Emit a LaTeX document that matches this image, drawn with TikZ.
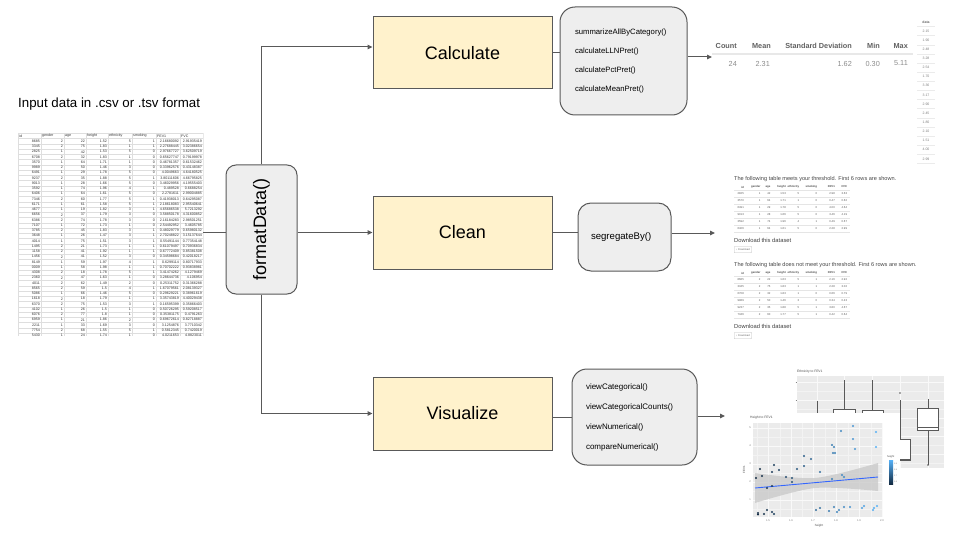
\documentclass[tikz,border=0pt]{standalone}
\usepackage{fontspec}
\setmainfont{Liberation Sans}
\usetikzlibrary{arrows.meta,calc}
\definecolor{edge}{HTML}{595959}
\definecolor{yel}{HTML}{FFF2CC}
\definecolor{fng}{HTML}{EEEEEE}
\definecolor{panel}{HTML}{EBEBEB}
\definecolor{db}{HTML}{132B43}
\definecolor{lb}{HTML}{56B1F7}
\definecolor{regl}{HTML}{3366FF}
\newcommand{\myfs}[1]{\fontsize{#1}{#1}\selectfont}
\newcommand{\myfsl}[2]{\fontsize{#1}{#2}\selectfont}
\tikzset{
  stage/.style={draw=edge, fill=yel, line width=1pt, minimum width=179pt, minimum height=73pt, font=\myfs{18}, inner sep=0pt},
  fnbox/.style={draw=edge, fill=fng, line width=1pt, rounded corners=15pt, align=left},
  conn/.style={draw=edge, line width=1pt},
  arr/.style={conn, -{Triangle[length=5pt,width=4.5pt]}},
  tgrid/.style={draw=black!13, line width=0.3pt},
  tcell/.style={font=\myfs{3.6}, text=black!80, inner sep=0pt},
  scell/.style={font=\myfs{2.8}, text=black!65, inner sep=0pt, anchor=east},
  shead/.style={font=\myfs{2.8}\bfseries, text=black!70, inner sep=0pt, anchor=east},
  sline/.style={draw=black!10, line width=0.3pt},
  tiny/.style={font=\myfs{2.6}, text=black!55, inner sep=0pt},
  wgrid/.style={draw=white!70!panel, line width=0.5pt},
  wgridm/.style={draw=white!40!panel, line width=0.3pt},
  bxp/.style={draw=black!65, fill=white, line width=0.5pt},
}
\begin{document}
\begin{tikzpicture}[x=1pt,y=-1pt]
\useasboundingbox (0,0) rectangle (960,540);
\fill[white] (0,0) rectangle (960,540);

% ---------- input data ----------
\node[font=\myfs{13.3}, anchor=west, inner sep=0pt] (intitle) at (18,104) {Input data in .csv or .tsv format};
\node[minimum width=185pt, minimum height=204pt, inner sep=0pt] (intab) at (110.5,234) {};
\begin{scope}
\clip (17.5,132) rectangle (203.5,336);
\foreach \x in {18,41,64,86,108,132,156,180,203} \draw[tgrid] (\x,133) -- (\x,336);
\foreach \k in {0,...,38} \draw[tgrid] (18,{133.4+\k*5.25}) -- (203,{133.4+\k*5.25});
\foreach \t/\x [count=\k] in {id/19,gender/42,age/65,height/87,ethnicity/109,smoking/133,FEV1/157,FVC/181}
  \node[tcell, anchor=west] (th\k) at (\x,136) {\t};
\foreach \va/\vb/\vc/\vd/\ve/\vf/\vg/\vh [count=\i] in {
8685/2/22/1.52/5/1/2.16680092/2.91935419,
3345/2/75/1.83/1/1/2.27688445/3.02386654,
2825/1/42/1.53/5/0/2.97667727/3.62509719,
6708/2/32/1.83/1/0/0.65627747/0.79199978,
3570/1/64/1.71/1/0/0.46781357/0.61532462,
9989/2/50/1.46/3/0/0.33962576/0.43148387,
6491/1/29/1.78/5/0/4.0049663/4.64180525,
9237/2/35/1.88/5/1/3.80111606/4.66795825,
9013/1/28/1.66/5/0/3.46029956/4.19555403,
3592/1/74/1.96/4/1/0.489528/0.6688254,
6406/1/64/1.61/5/0/2.2781611/2.99004885,
7346/2/60/1.77/5/1/0.41938013/0.64295087,
6171/1/61/1.58/5/1/2.18618083/2.95540641,
4677/1/19/1.82/3/1/4.65686538/5.7213292,
6656/2/37/1.79/3/0/3.58850178/4.31600852,
6386/2/74/1.78/3/0/2.16184283/2.98501251,
7107/1/72/1.73/1/0/2.54492952/3.4605785,
3785/2/45/1.83/3/1/0.48029779/0.65980132,
3648/1/26/1.47/3/1/2.70248822/3.15137644,
4014/1/75/1.51/3/1/0.55491144/0.77354148,
1495/2/21/1.73/1/1/0.61079497/0.70936834,
1158/2/41/1.92/1/1/0.67772409/0.85381508,
1456/2/41/1.52/3/0/0.34598684/0.42018217,
8149/1/59/1.97/4/1/0.6299114/0.80717933,
0009/1/58/1.98/1/1/0.70702222/0.93838981,
4308/2/18/1.78/5/1/3.41474262/4.1279469,
2360/2/47/1.63/1/0/3.28644736/4.106954,
4011/2/62/1.49/2/0/0.25311752/0.31366288,
8565/2/59/1.5/4/1/1.67079561/2.08139327,
5086/1/66/1.46/5/0/0.29629221/0.38961619,
1618/2/18/1.79/1/1/3.35743819/4.40029438,
6370/2/75/1.53/3/1/0.16595399/0.35866403,
4102/1/26/1.5/1/0/0.50726295/0.59208517,
6076/2/77/1.8/1/0/0.35381175/0.4791263,
6959/1/21/1.86/2/0/0.69672614/0.82718887,
2211/1/33/1.69/3/0/3.1254876/3.7710342,
7754/2/68/1.55/5/1/0.5812345/0.7420019,
5430/1/24/1.74/1/0/4.0211653/4.8823011}{
  \pgfmathsetmacro\yy{141.25+(\i-1)*5.25}
  \node[tcell, anchor=east] (ta\i) at (40,\yy) {\va};
  \node[tcell, anchor=east] (tb\i) at (63,\yy) {\vb};
  \node[tcell, anchor=east] (tc\i) at (85,\yy) {\vc};
  \node[tcell, anchor=east] (td\i) at (107,\yy) {\vd};
  \node[tcell, anchor=east] (te\i) at (131,\yy) {\ve};
  \node[tcell, anchor=east] (tf\i) at (155,\yy) {\vf};
  \node[tcell, anchor=east] (tg\i) at (179,\yy) {\vg};
  \node[tcell, anchor=east] (thh\i) at (202,\yy) {\vh};
}
\end{scope}

% ---------- formatData ----------
\node[fnbox, rounded corners=10pt, minimum width=71pt, minimum height=129pt, font=\myfs{18}, inner sep=0pt] (fd) at (261.5,229.5) {\rotatebox{90}{formatData()}};

% ---------- stages ----------
\node[stage, minimum height=72pt] (calc) at (462.5,53) {Calculate};
\node[stage] (clean) at (462.5,232.5) {Clean};
\node[stage] (viz) at (462.5,413.5) {Visualize};

% ---------- function boxes ----------
\node[fnbox, minimum width=127pt, minimum height=108pt, text width=97pt, inner xsep=15pt, font=\myfsl{7.7}{19}] (calcfn) at (623.5,61)
 {summarizeAllByCategory()\\calculateLLNPret()\\calculatePctPret()\\calculateMeanPret()};
\node[fnbox, rounded corners=13pt, minimum width=93pt, minimum height=68pt, text width=67pt, inner xsep=13pt, font=\myfs{9.6}] (segfn) at (624.5,237) {segregateBy()};
\node[fnbox, minimum width=125pt, minimum height=96pt, text width=97pt, inner xsep=14pt, font=\myfsl{8}{20}] (vizfn) at (634.5,417)
 {viewCategorical()\\viewCategoricalCounts()\\viewNumerical()\\compareNumerical()};

% ---------- connectors ----------
\coordinate (calcout) at (712,57);
\coordinate (cleanout) at (715,233);
\coordinate (vizout) at (725,416);
\draw[conn] (intab.east |- clean.west) -- (fd.west |- clean.west);
\draw[arr] (fd.north) |- ([yshift=6pt]calc.west);
\draw[arr] (fd.east |- clean.west) -- (clean.west);
\draw[arr] (fd.south) |- (viz.west);
\draw[conn] (calc.east) -- (calc.east -| calcfn.west);
\draw[arr] (calcfn.east |- calcout) -- (calcout);
\draw[conn] (clean.east) -- (clean.east -| segfn.west);
\draw[arr] (segfn.east |- cleanout) -- (cleanout);
\draw[conn] (viz.east |- vizfn.west) -- (vizfn.west);
\draw[arr] (vizfn.east |- vizout) -- (vizout);

% ---------- summary table (Calculate output) ----------
\begin{scope}[every node/.style={inner sep=0pt, anchor=east}]
\foreach \t/\x [count=\k] in {Count/737,Mean/771,Standard Deviation/852,Min/880,Max/908}
  \node[font=\myfs{7.3}\bfseries, text=black!62] (sh\k) at (\x,46) {\t};
\foreach \t/\x [count=\k] in {24/737,2.31/770,1.62/852,0.30/880,5.11/908}
  \node[font=\myfs{7.3}, text=black!45] (sv\k) at (\x,63.5) {\t};
\end{scope}
\draw[draw=black!9, line width=1.5pt] (712,54) -- (913,54);
\node[font=\myfs{3.5}\bfseries, text=black!60, inner sep=0pt] (dh) at (926,22) {data};
\foreach \k in {0,...,15} \draw[draw=black!8, line width=0.4pt] (917,{26.5+\k*9.13}) -- (935,{26.5+\k*9.13});
\foreach \v [count=\i] in {2.15,1.90,2.48,3.28,2.54,1.70,3.36,3.17,2.90,2.45,1.80,2.10,1.51,4.00,2.99}
  \node[font=\myfs{3.5}, text=black!50, inner sep=0pt] (dv\i) at (926,{31+(\i-1)*9.13}) {\v};

% ---------- Clean output ----------
\node[anchor=west, font=\myfs{5.6}, text=black!72, inner sep=0pt] (cl1) at (734,179) {The following table meets your threshold. First 6 rows are shown.};
\foreach \t/\x [count=\k] in {id/744,gender/760.7,age/770.7,height/786,ethnicity/799.3,smoking/817.3,FEV1/835,FVC/847.3}
  \node[shead] (ch\k) at (\x,187) {\t};
\foreach \k in {0,...,6} \draw[sline] (734,{190.5+\k*7}) -- (850,{190.5+\k*7});
\foreach \va/\vb/\vc/\vd/\ve/\vf/\vg/\vh [count=\i] in {
2825/1/42/1.53/5/0/2.98/3.63,3570/1/64/1.71/1/0/0.47/0.62,6491/1/29/1.78/5/0/4.00/4.64,
9013/1/28/1.66/5/0/3.46/4.19,3592/1/74/1.96/4/1/0.49/0.67,6406/1/64/1.61/5/0/2.28/2.99}{
  \pgfmathsetmacro\yy{194+(\i-1)*7}
  \node[scell] (ca\i) at (744,\yy) {\va};
  \node[scell] (cb\i) at (760.7,\yy) {\vb};
  \node[scell] (cc\i) at (770.7,\yy) {\vc};
  \node[scell] (cd\i) at (786,\yy) {\vd};
  \node[scell] (ce\i) at (799.3,\yy) {\ve};
  \node[scell] (cf\i) at (817.3,\yy) {\vf};
  \node[scell] (cg\i) at (835,\yy) {\vg};
  \node[scell] (chh\i) at (847.3,\yy) {\vh};
}
\node[anchor=west, font=\myfs{5.8}, text=black!75, inner sep=0pt] (dl1) at (734,240) {Download this dataset};
\node[anchor=west, draw=black!25, line width=0.3pt, rounded corners=0.8pt, font=\myfs{2.6}, text=black!60, minimum height=6.5pt, inner xsep=2pt, inner ysep=0pt] (bt1) at (734,249.5) {↓ Download};

\node[anchor=west, font=\myfs{5.6}, text=black!72, inner sep=0pt] (cl2) at (734,265) {The following table does not meet your threshold. First 6 rows are shown.};
\foreach \t/\x [count=\k] in {id/744,gender/760.7,age/770.7,height/786,ethnicity/799.3,smoking/817.3,FEV1/835,FVC/847.3}
  \node[shead] (cj\k) at (\x,273) {\t};
\foreach \k in {0,...,6} \draw[sline] (734,{276.5+\k*7}) -- (850,{276.5+\k*7});
\foreach \va/\vb/\vc/\vd/\ve/\vf/\vg/\vh [count=\i] in {
8685/2/22/1.63/5/1/2.16/2.92,3345/2/75/1.83/1/1/2.28/3.02,6708/2/32/1.83/1/0/0.66/0.79,
9989/2/50/1.46/3/0/0.34/0.43,9237/2/35/1.88/5/1/3.80/4.67,7346/2/60/1.77/5/1/0.42/0.64}{
  \pgfmathsetmacro\yy{280+(\i-1)*7}
  \node[scell] (ka\i) at (744,\yy) {\va};
  \node[scell] (kb\i) at (760.7,\yy) {\vb};
  \node[scell] (kc\i) at (770.7,\yy) {\vc};
  \node[scell] (kd\i) at (786,\yy) {\vd};
  \node[scell] (ke\i) at (799.3,\yy) {\ve};
  \node[scell] (kf\i) at (817.3,\yy) {\vf};
  \node[scell] (kg\i) at (835,\yy) {\vg};
  \node[scell] (khh\i) at (847.3,\yy) {\vh};
}
\node[anchor=west, font=\myfs{5.8}, text=black!75, inner sep=0pt] (dl2) at (734,326) {Download this dataset};
\node[anchor=west, draw=black!25, line width=0.3pt, rounded corners=0.8pt, font=\myfs{2.6}, text=black!60, minimum height=6.5pt, inner xsep=2pt, inner ysep=0pt] (bt2) at (734,335.5) {↓ Download};

% ---------- Visualize output: back plot ----------
\fill[white] (792,366) rectangle (946,474);
\node[anchor=west, font=\myfs{3.3}, text=black!70, inner sep=0pt] (bpt) at (797,371.5) {Ethnicity to FEV1};
\fill[panel] (797,376) rectangle (944,468);
\foreach \y in {391,409,427,445,463} \draw[wgridm] (797,\y) -- (944,\y);
\foreach \y in {382,400,418,436,454} \draw[wgrid] (797,\y) -- (944,\y);
\foreach \x in {817,844,872,900,928} \draw[wgrid] (\x,376) -- (\x,468);
\foreach \y in {382,400} \draw[black!50, line width=0.3pt] (795.5,\y) -- (797,\y);
\draw[black!65, line width=0.5pt] (817,401) -- (817,440);
\draw[black!65, line width=0.5pt] (844,380) -- (844,420);
\draw[black!65, line width=0.5pt] (872,380) -- (872,420);
\draw[bxp] (833,409.5) rectangle (855,450);
\draw[bxp] (862,410) rectangle (883,450);
\fill[black!65] (900,393) circle (0.9pt);
\draw[black!65, line width=0.5pt] (900,400) -- (900,439);
\draw[bxp] (890,439) rectangle (910,460);
\draw[black!65, line width=1pt] (890,459) -- (910,459);
\draw[black!65, line width=0.5pt] (928,399) -- (928,465);
\draw[bxp] (917,408) rectangle (938,430);
\draw[black!65, line width=1pt] (917,427.5) -- (938,427.5);
\fill[black!65] (928,465) circle (0.8pt);

% ---------- Visualize output: front plot ----------
\fill[white] (739,412.5) rectangle (900,531);
\node[anchor=west, font=\myfs{3.3}, text=black!70, inner sep=0pt] (fpt) at (750,418) {Height to FEV1};
\fill[panel] (753,423) rectangle (883,517);
\foreach \y in {437,455,473,491,509} \draw[wgridm] (753,\y) -- (883,\y);
\foreach \x in {757,780,802,825,848,871} \draw[wgridm] (\x,423) -- (\x,517);
\foreach \y in {428,446,464,482,500} \draw[wgrid] (753,\y) -- (883,\y);
\foreach \x in {768,791,813,836,859,882} \draw[wgrid] (\x,423) -- (\x,517);
\foreach \t/\y [count=\k] in {5/428,4/446,3/464,2/482,1/500}
  \node[tiny, anchor=east] (fy\k) at (751,\y) {\t};
\foreach \t/\x [count=\k] in {1.5/768,1.6/791,1.7/813,1.8/836,1.9/859,2.0/882}
  \node[tiny] (fx\k) at (\x,520.5) {\t};
\node[font=\myfs{3}, text=black!70, inner sep=0pt] (fxl) at (819,525.5) {height};
\node[font=\myfs{3}, text=black!70, inner sep=0pt, rotate=90] (fyl) at (744,470) {FEV1};
\fill[black!22, opacity=0.75] plot[smooth] coordinates {(755,473) (815,478) (878,463)} -- plot[smooth] coordinates {(878,491) (815,488) (755,503)} -- cycle;
\draw[regl, line width=0.9pt] (755,488) -- (878,477);
\foreach \px/\py in {756/478,760/469,762/476,767/488,772/472,774/465,779/470,772/486,786/477,792/478,792/482,797/469,804/466,804/456,811/459,820/472,832/445,834/447,833/453,835/453,832/479,841/431,853/426,853/439,855/449,842/475,844/477,876/432,876/447,
758/513,758/514.5,764/514,767/510,772/512,774/514,816/510,820/508,829/511,834/507,837/512,839/510,844/507,850/507,862/508,864/506,874/508,877/506,873/510}{
  \pgfmathtruncatemacro\pct{max(0,min(100,100*(\px-756)/121))}
  \fill[lb!\pct!db] (\px,\py) circle (1.1pt);
}
\node[anchor=west, font=\myfs{2.6}, text=black!70, inner sep=0pt] (lgt) at (887,456.5) {height};
\shade[top color=lb, bottom color=db] (889,460) rectangle (893,484);
\foreach \t/\y [count=\k] in {1.9/464,1.8/470,1.7/476,1.6/482}
  \node[tiny, anchor=west, font=\myfs{2}] (lg\k) at (894,\y) {\t};
\end{tikzpicture}
\end{document}
